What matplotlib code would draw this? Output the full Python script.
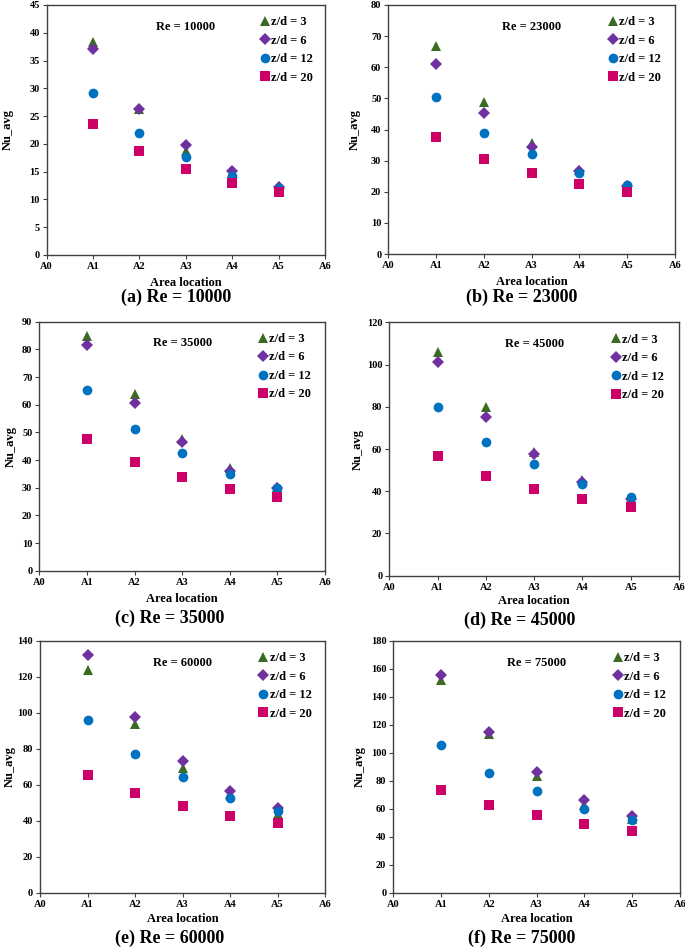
import matplotlib
matplotlib.use("Agg")
import matplotlib.pyplot as plt

plt.rcParams['font.family'] = ['Liberation Serif', 'DejaVu Serif']
plt.rcParams['font.weight'] = 'bold'

locations = ["A1", "A2", "A3", "A4", "A5"]
tick_labels = ["A0", "A1", "A2", "A3", "A4", "A5", "A6"]
series_labels = ["z/d = 3", "z/d = 6", "z/d = 12", "z/d = 20"]
re_values = [10000, 23000, 35000, 45000, 60000, 75000]
panel_letters = ["a", "b", "c", "d", "e", "f"]

# Nu_avg values per Reynolds number: [z/d=3, z/d=6, z/d=12, z/d=20]
re10000 = [[38.3, 26.2, 18.8, 14.8, 12.4],
           [37.0, 26.3, 19.8, 15.1, 12.3],
           [29.2, 21.9, 17.6, 14.3, 12.0],
           [23.5, 18.7, 15.4, 13.0, 11.3]]
re23000 = [[66.9, 48.7, 35.8, 27.0, 22.0],
           [61.1, 45.2, 34.5, 26.8, 21.8],
           [50.3, 39.0, 32.0, 26.0, 22.1],
           [37.7, 30.6, 26.1, 22.6, 20.0]]
re35000 = [[84.8, 63.7, 47.5, 37.0, 30.3],
           [81.4, 60.7, 46.4, 36.1, 29.8],
           [65.2, 51.3, 42.6, 34.9, 29.8],
           [47.6, 39.4, 34.0, 29.6, 26.5]]
re45000 = [[105.8, 79.7, 58.7, 45.3, 36.8],
           [101.1, 75.3, 57.6, 44.5, 36.5],
           [80.1, 63.2, 52.7, 43.3, 37.1],
           [56.5, 47.2, 41.0, 36.2, 32.4]]
re60000 = [[124.0, 93.7, 69.4, 55.0, 44.0],
           [132.0, 97.6, 73.3, 56.7, 46.9],
           [96.1, 77.0, 64.3, 52.8, 45.4],
           [65.2, 55.4, 48.3, 42.6, 38.5]]
re75000 = [[151.7, 113.3, 83.1, 63.0, 53.0],
           [155.2, 115.0, 86.0, 66.0, 54.5],
           [105.2, 85.7, 72.4, 60.0, 51.7],
           [73.1, 62.9, 55.2, 48.8, 44.3]]
all_data = [re10000, re23000, re35000, re45000, re60000, re75000]

y_max = [45, 80, 90, 120, 140, 180]
y_step = [5, 10, 10, 20, 20, 20]

markers = ["^", "D", "o", "s"]
sizes = [7.0, 6.0, 7.0, 6.5]
colors = ["#3B6B22", "#7030A0", "#0070C0", "#CC0066"]

W, H = 685, 949
fig = plt.figure(figsize=(W / 100, H / 100), dpi=100)

# axes boxes in pixels: left, top, right, bottom
boxes = [(46.7, 5, 325, 255), (388.3, 5, 675, 254),
         (39.3, 321.7, 325, 570.7), (389.3, 322.3, 679, 575.7),
         (40, 640.7, 325, 892.7), (393.3, 640.7, 680, 892.7)]
ylabel_right = [14, 361, 17, 363.5, 15.5, 365.5]
xlabel_top = [277, 276, 593, 595, 913, 913]
caption_xy = [(176, 297), (522, 297), (170, 618), (520, 620), (170, 938), (522, 938)]

positions = list(range(1, len(locations) + 1))

for i, data in enumerate(all_data):
    l, t, r, b = boxes[i]
    ax = fig.add_axes([l / W, 1 - b / H, (r - l) / W, (b - t) / H])
    for k in range(4):
        ax.plot(positions, data[k], linestyle="none", marker=markers[k],
                markersize=sizes[k], color=colors[k], markeredgewidth=0,
                label=series_labels[k])
    ax.set_xlim(0, 6)
    ax.set_ylim(0, y_max[i])
    ax.set_xticks(range(7))
    ax.set_xticklabels(tick_labels)
    ax.set_yticks(range(0, y_max[i] + 1, y_step[i]))
    ax.tick_params(labelsize=7.5, length=3, width=0.8, color="#404040", pad=2)
    for sp in ax.spines.values():
        sp.set_color("#404040")
        sp.set_linewidth(1.0)
    ax.set_ylabel("Nu_avg", fontsize=9, fontweight="bold")
    ax.yaxis.set_label_coords((ylabel_right[i] - l) / (r - l), 0.5)
    ax.set_xlabel("Area location", fontsize=9, fontweight="bold")
    ax.xaxis.set_label_coords(0.5, (b - xlabel_top[i]) / (b - t))
    ax.text(0.5, 0.913, f"Re = {re_values[i]}", transform=ax.transAxes,
            ha="center", va="center", fontsize=9, fontweight="bold")
    ax.legend(loc="upper left", bbox_to_anchor=(0.768, 0.955), frameon=False,
              fontsize=9, handlelength=0.7, handletextpad=0.15,
              labelspacing=0.52, borderpad=0, borderaxespad=0)
    cx, cy = caption_xy[i]
    fig.text(cx / W, 1 - cy / H, f"({panel_letters[i]}) Re = {re_values[i]}",
             ha="center", va="center", fontsize=13, fontweight="bold")

fig.savefig("out.png", dpi=100)
